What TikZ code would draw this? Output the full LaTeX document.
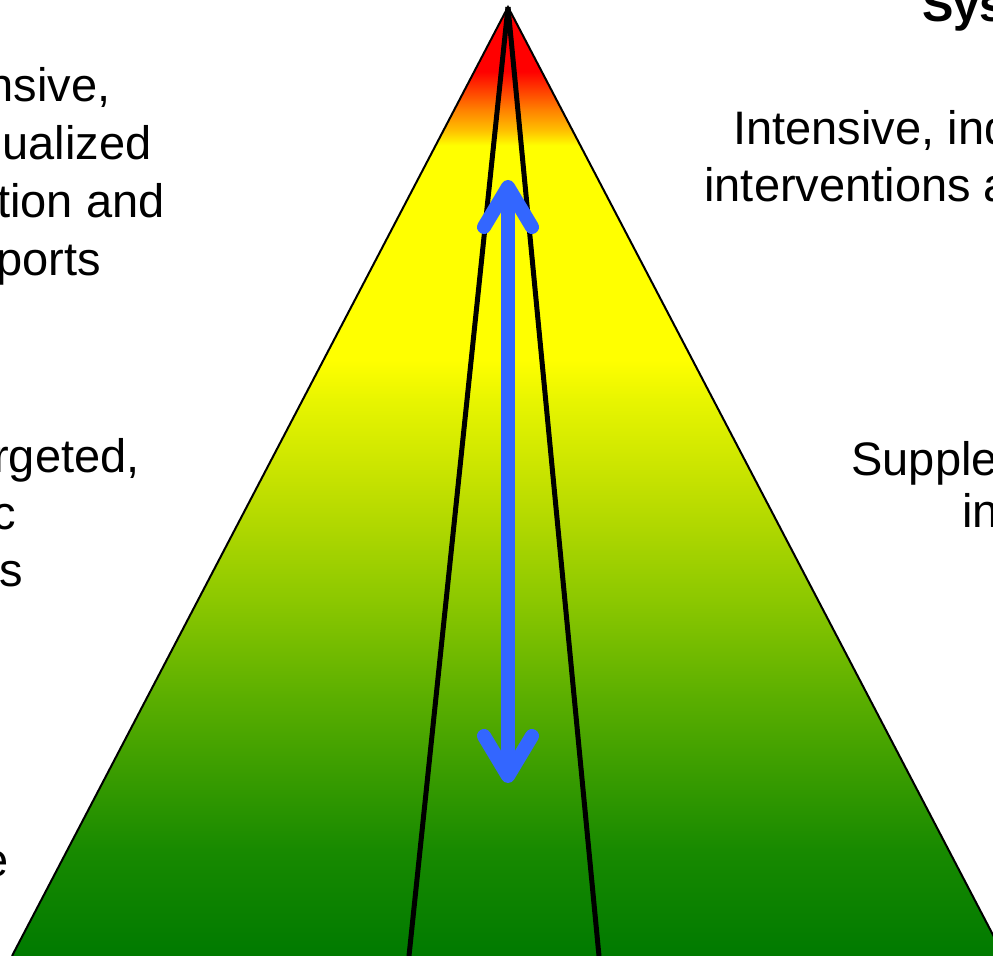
\documentclass[tikz,border=0pt]{standalone}
\usepackage{fontspec}
\setmainfont{Liberation Sans}
\usepackage{tikz}
\usetikzlibrary{arrows.meta}
\definecolor{pyrred}    {HTML}{FF0000}
\definecolor{pyrorange} {HTML}{FF8000}
\definecolor{pyramber}  {HTML}{FFC000}
\definecolor{pyryellow} {HTML}{FFFF00}
\definecolor{pyrlime}   {HTML}{E8F500}
\definecolor{pyrchart}  {HTML}{BCDD00}
\definecolor{pyrgrass}  {HTML}{8CC800}
\definecolor{pyrleaf}   {HTML}{5AAE00}
\definecolor{pyrforest} {HTML}{188A00}
\definecolor{pyrdeep}   {HTML}{007A00}
\definecolor{pyrblue}   {HTML}{3366FF}
% bottom (25bp) to apex (75bp) of the pyramid
\pgfdeclareverticalshading{pyrshade}{100bp}{%
  color(0bp)=(pyrdeep); color(25bp)=(pyrdeep); color(30.6bp)=(pyrforest);
  color(38.5bp)=(pyrleaf); color(43.8bp)=(pyrgrass); color(49bp)=(pyrchart);
  color(54.3bp)=(pyrlime); color(56.4bp)=(pyryellow); color(67.7bp)=(pyryellow);
  color(68.5bp)=(pyramber); color(69.6bp)=(pyrorange); color(71.6bp)=(pyrred);
  color(75bp)=(pyrred); color(100bp)=(pyrred)}
\tikzset{
  pyrtext/.style={inner sep=0pt, font=\fontsize{23.5}{28.5}\selectfont},
  pyrhead/.style={pyrtext, font=\fontsize{23.5}{28.5}\selectfont\bfseries},
  pyredge/.style={draw=black, line width=1pt, line join=miter},
  pyrdivide/.style={draw=black, line width=2.5pt},
  pyrarrow/.style={{Straight Barb[length=20pt,width=24pt,round]}-{Straight Barb[length=20pt,width=24pt,round]},
                   draw=pyrblue, line width=7pt},
}
\begin{document}
\begin{tikzpicture}[x=0.5pt,y=-0.5pt]
  \clip (0,0) rectangle (993,956);
  \coordinate (apex) at (508,7);
  \coordinate (bl)   at (12,956);
  \coordinate (br)   at (1004,956);
  \coordinate (dl)   at (409,956);
  \coordinate (dr)   at (599,956);
  \coordinate (aup)  at (508,180);
  \coordinate (adn)  at (508,783);
  \shade[shading=pyrshade] (apex) -- (bl) -- (br) -- cycle;
  \draw[pyredge] (bl) -- (apex) -- (br);
  \draw[pyrdivide] (apex) -- (dl);
  \draw[pyrdivide] (apex) -- (dr);
  \draw[pyrarrow] (aup) -- (adn);
  % left column
  \node[pyrtext,anchor=base east] (ltop1) at (111,102) {Intensive,};
  \node[pyrtext,anchor=base east] (ltop2) at (152,160) {individualized};
  \node[pyrtext,anchor=base east] (ltop3) at (165,218) {intervention and};
  \node[pyrtext,anchor=base east] (ltop4) at (101,276) {supports};
  \node[pyrtext,anchor=base east] (lmid1) at (140,473) {Targeted,};
  \node[pyrtext,anchor=base east] (lmid2) at (16,530)  {strategic};
  \node[pyrtext,anchor=base east] (lmid3) at (23,587)  {interventions};
  \node[pyrtext,anchor=base east] (lbot1) at (9,877)   {Core};
  % right column
  \node[pyrhead,anchor=base west] (rhead) at (922,22)  {Systems};
  \node[pyrtext,anchor=base west] (rtop1) at (733,145) {Intensive, individualized};
  \node[pyrtext,anchor=base west] (rtop2) at (704,202) {interventions and supports};
  \node[pyrtext,anchor=base west] (rmid1) at (851,476) {Supplemental,};
  \node[pyrtext,anchor=base west] (rmid2) at (962,528) {interventions};
\end{tikzpicture}
\end{document}
